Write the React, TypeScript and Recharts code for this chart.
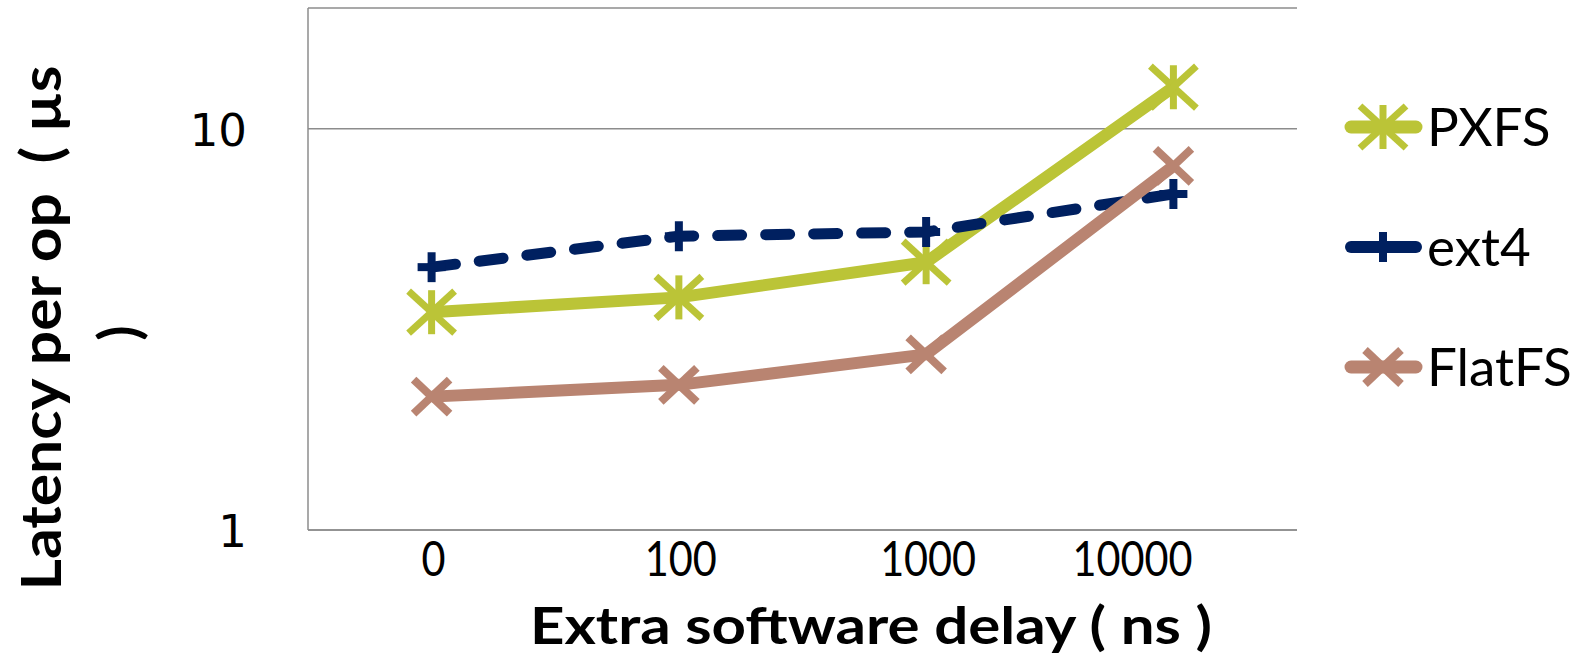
import React from 'react'
import { LineChart, Line, XAxis, YAxis, CartesianGrid, Legend, Label } from 'recharts'

const categories = ['0', '100', '1000', '10000']
const pxfs = [3.49, 3.8, 4.65, 12.7]
const ext4 = [4.52, 5.4, 5.53, 6.88]
const flatfs = [2.15, 2.3, 2.74, 8.08]
const yTicks = [1, 10]

const data = categories.map((name, i) => ({
  name,
  PXFS: pxfs[i],
  ext4: ext4[i],
  FlatFS: flatfs[i],
}))

const GREEN = '#BBC437'
const NAVY = '#002060'
const ROSE = '#B98471'
const AXIS = '#8C8C8C'

interface MarkProps {
  cx: number;
  cy: number;
  color: string;
}

const Asterisk = ({ cx, cy, color }: MarkProps) => (
  <g stroke={color} strokeWidth={7}>
    <line x1={cx} y1={cy - 22} x2={cx} y2={cy + 22} />
    <line x1={cx - 23} y1={cy - 21} x2={cx + 23} y2={cy + 21} />
    <line x1={cx - 23} y1={cy + 21} x2={cx + 23} y2={cy - 21} />
  </g>
)

const Plus = ({ cx, cy, color }: MarkProps) => (
  <g stroke={color} strokeWidth={8}>
    <line x1={cx} y1={cy - 15} x2={cx} y2={cy + 15} />
    <line x1={cx - 14} y1={cy} x2={cx + 14} y2={cy} />
  </g>
)

const Cross = ({ cx, cy, color }: MarkProps) => (
  <g stroke={color} strokeWidth={8}>
    <line x1={cx - 18} y1={cy - 17} x2={cx + 18} y2={cy + 17} />
    <line x1={cx - 18} y1={cy + 17} x2={cx + 18} y2={cy - 17} />
  </g>
)

const legendItems = [
  { name: 'PXFS', color: GREEN, Mark: Asterisk, width: 13 },
  { name: 'ext4', color: NAVY, Mark: Plus, width: 12 },
  { name: 'FlatFS', color: ROSE, Mark: Cross, width: 13 },
]

const renderLegend = () => (
  <svg width={243} height={420}>
    {legendItems.map((it, i) => {
      const y = 127 + i * 120
      return (
        <g key={it.name}>
          <line x1={11} y1={y} x2={76} y2={y} stroke={it.color} strokeWidth={it.width} strokeLinecap="round" />
          <it.Mark cx={43} cy={y} color={it.color} />
          <text x={87} y={y + 19} fontFamily="Lato" fontSize={53} fill="#000">
            {it.name}
          </text>
        </g>
      )
    })}
  </svg>
)

const XTick = (props: any) => {
  const { x, y, payload, index } = props
  const shift = index === categories.length - 1 ? -41 : 2
  const label = String(payload.value)
  return (
    <text
      x={x + shift}
      y={y + 46}
      textAnchor="middle"
      fontFamily="Lato"
      fontSize={48}
      fill="#000"
      textLength={label.length * 24}
      lengthAdjust="spacingAndGlyphs"
    >
      {label}
    </text>
  )
}

const YTick = (props: any) => {
  const { x, y, payload } = props
  return (
    <text x={x - 61} y={y + 17} textAnchor="end" fontFamily="'DejaVu Sans'" fontSize={45} fill="#000">
      {payload.value}
    </text>
  )
}

const YTitle = () => (
  <g fontFamily="Lato" fontWeight="bold" fontSize={56} fill="#000">
    <text transform="translate(61,328) rotate(-90)" textAnchor="middle" textLength={525} lengthAdjust="spacingAndGlyphs">
      {'Latency per op\u00a0\u00a0( µs'}
    </text>
    <text transform="translate(139,333) rotate(-90)" textAnchor="middle">
      )
    </text>
  </g>
)

const XTitle = () => (
  <text x={530} y={644} fontFamily="Lato" fontWeight="bold" fontSize={52} fill="#000" textLength={682} lengthAdjust="spacingAndGlyphs">
    Extra software delay ( ns )
  </text>
)

const App = () => {
  return (
    <div style={{ position: 'absolute', left: 0, top: 0, background: '#fff' }}>
      <LineChart width={1583} height={655} data={data} margin={{ top: 8, right: 286, bottom: 65, left: 208 }}>
        <CartesianGrid vertical={false} stroke={AXIS} strokeWidth={1.5} />
        <XAxis
          dataKey="name"
          scale="point"
          padding={{ left: 123.6, right: 123.6 }}
          height={60}
          tickLine={false}
          tickSize={0}
          tickMargin={0}
          stroke={AXIS}
          strokeWidth={1.5}
          tick={XTick}
          interval={0}
        >
          <Label content={XTitle} />
        </XAxis>
        <YAxis
          scale="log"
          domain={[1, 20]}
          ticks={yTicks}
          allowDataOverflow
          width={100}
          tickLine={false}
          tickSize={0}
          tickMargin={0}
          stroke={AXIS}
          strokeWidth={1.5}
          tick={YTick}
        >
          <Label content={YTitle} />
        </YAxis>
        <Legend
          layout="vertical"
          align="center"
          verticalAlign="middle"
          content={renderLegend}
          wrapperStyle={{ left: 1340, top: 0, width: 243, height: 420 }}
        />
        <Line
          dataKey="PXFS"
          stroke={GREEN}
          strokeWidth={12}
          isAnimationActive={false}
          activeDot={false}
          dot={(p: any) => <Asterisk key={`p-${p.index}`} cx={p.cx} cy={p.cy} color={GREEN} />}
        />
        <Line
          dataKey="ext4"
          stroke={NAVY}
          strokeWidth={11}
          strokeDasharray="24 24"
          strokeLinecap="round"
          isAnimationActive={false}
          activeDot={false}
          dot={(p: any) => <Plus key={`e-${p.index}`} cx={p.cx} cy={p.cy} color={NAVY} />}
        />
        <Line
          dataKey="FlatFS"
          stroke={ROSE}
          strokeWidth={12}
          isAnimationActive={false}
          activeDot={false}
          dot={(p: any) => <Cross key={`f-${p.index}`} cx={p.cx} cy={p.cy} color={ROSE} />}
        />
      </LineChart>
    </div>
  )
}

export default App
